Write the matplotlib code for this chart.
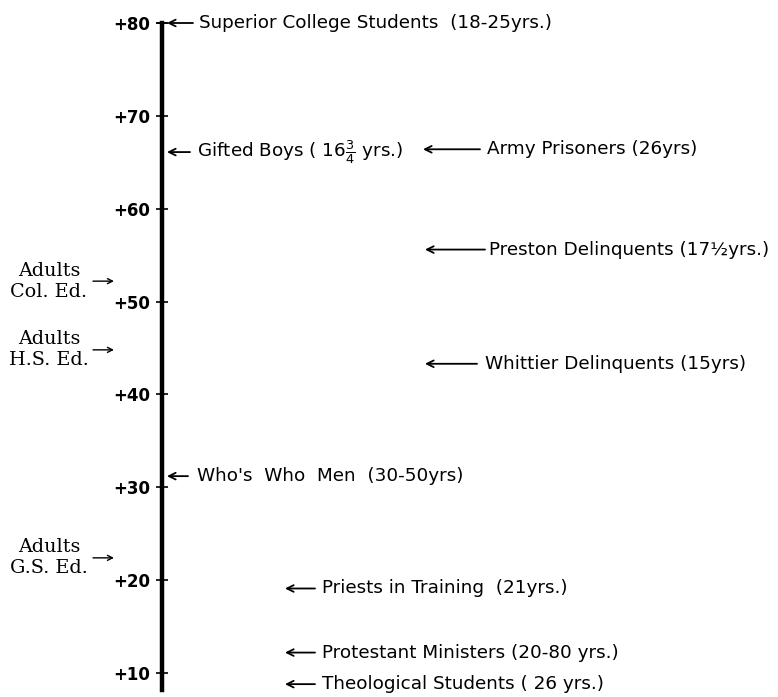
import matplotlib
matplotlib.use('Agg')
import matplotlib.pyplot as plt

# group means (score scale)
groups = ['Superior College Students  (18-25yrs.)',
          r'Gifted Boys ( 16$\frac{3}{4}$ yrs.)',
          'Army Prisoners (26yrs)',
          'Preston Delinquents (17\u00bdyrs.)',
          'Whittier Delinquents (15yrs)',
          "Who's  Who  Men  (30-50yrs)",
          'Priests in Training  (21yrs.)',
          'Protestant Ministers (20-80 yrs.)',
          'Theological Students ( 26 yrs.)']
scores = [80.0, 66.1, 66.4, 55.6, 43.3, 31.2, 19.1, 12.2, 8.8]

adult_groups = ['Col. Ed.', 'H.S. Ed.', 'G.S. Ed.']
adult_scores = [52.2, 44.8, 22.4]

tick_vals = [10, 20, 30, 40, 50, 60, 70, 80]
tick_labels = ['+%d' % v for v in tick_vals]

# layout (pixel x positions): arrow tip, arrow tail, text start
tips = [167, 167, 423, 425, 425, 167, 285, 285, 285]
tails = [193, 190, 480, 485, 477, 188, 315, 315, 315]
text_x = [199, 197, 487, 489, 485, 197, 322, 322, 322]

fig = plt.figure(figsize=(7.78, 6.97), dpi=100)
ax = fig.add_axes([0, 0, 1, 1])
ax.set_xlim(0, 778)
ax.set_ylim(7.415, 82.477)

for s in ['top', 'right', 'bottom']:
    ax.spines[s].set_visible(False)
ax.spines['left'].set_position(('data', 162))
ax.spines['left'].set_linewidth(3.2)
ax.spines['left'].set_bounds(8.2, 80)
ax.set_xticks([])
ax.set_yticks(tick_vals)
ax.set_yticklabels(tick_labels, fontsize=12, fontweight='bold')
ax.tick_params(axis='y', direction='inout', length=9, width=1.2, pad=4)

# small cap at the top of the scale
ax.plot([157, 167], [80, 80], color='black', lw=1.2)

for g, v, tip, tail, tx in zip(groups, scores, tips, tails, text_x):
    ax.annotate('', xy=(tip, v), xytext=(tail, v),
                arrowprops=dict(arrowstyle='->', color='black', lw=1.3,
                                shrinkA=0, shrinkB=0, mutation_scale=12))
    ax.text(tx, v, g, fontsize=13.2, va='center', ha='left')

for g, v in zip(adult_groups, adult_scores):
    ax.text(49, v, 'Adults\n' + g, family='DejaVu Serif', fontsize=13.8,
            ha='center', va='center', linespacing=1.2)
    ax.annotate('', xy=(114, v), xytext=(93, v),
                arrowprops=dict(arrowstyle='->', color='black', lw=1.0,
                                shrinkA=0, shrinkB=0, mutation_scale=9))

plt.savefig('out.png', dpi=100)
